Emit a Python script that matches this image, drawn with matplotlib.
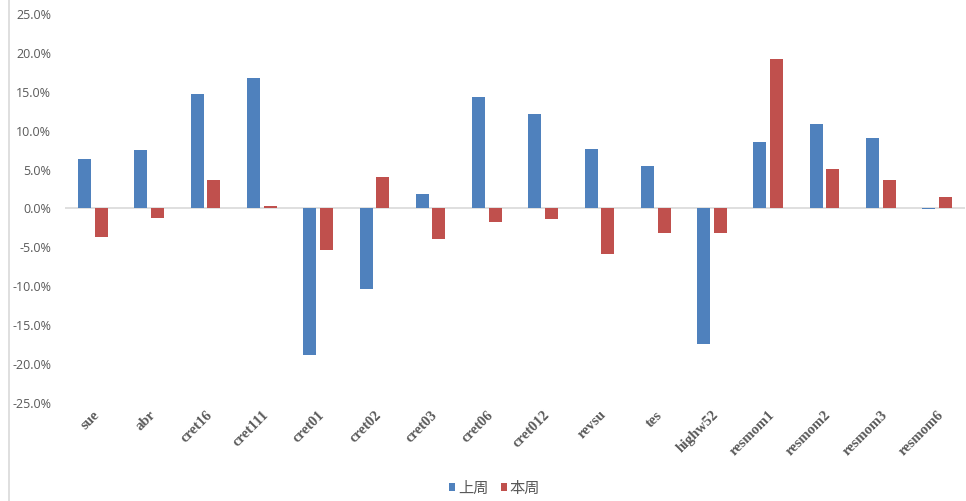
import matplotlib
matplotlib.use("Agg")
import matplotlib.pyplot as plt
import numpy as np
from matplotlib.lines import Line2D
from matplotlib.ticker import FuncFormatter

categories = ["sue", "abr", "cret16", "cret111", "cret01", "cret02", "cret03", "cret06",
              "cret012", "revsu", "tes", "highw52", "resmom1", "resmom2", "resmom3", "resmom6"]
last_week = [6.4, 7.5, 14.7, 16.8, -18.8, -10.4, 1.9, 14.3,
             12.1, 7.7, 5.4, -17.4, 8.5, 10.8, 9.0, -0.1]
this_week = [-3.7, -1.2, 3.6, 0.3, -5.4, 4.1, -3.9, -1.8,
             -1.4, -5.9, -3.1, -3.1, 19.2, 5.1, 3.7, 1.5]
series_names = ["上周", "本周"]
yticks = [-25, -20, -15, -10, -5, 0, 5, 10, 15, 20, 25]

plt.rcParams['font.family'] = ['Noto Sans CJK SC', 'DejaVu Sans']

fig = plt.figure(figsize=(9.66, 5.01), dpi=100)
ax = fig.add_axes([0.0672, 0.196, 0.932, 0.776])

x = np.arange(len(categories))
w = 0.231
off = 0.148
blue = "#4F81BD"
red = "#C0504D"
ax.bar(x - off, last_week, w, color=blue, label=series_names[0], zorder=3)
ax.bar(x + off, this_week, w, color=red, label=series_names[1], zorder=3)

ax.set_xlim(-0.5, len(categories) - 0.5)
ax.set_ylim(-25, 25)
ax.set_yticks(yticks)
ax.yaxis.set_major_formatter(FuncFormatter(lambda v, p: f"{v:.1f}%"))
ax.axhline(0, color="#D9D9D9", lw=1.2, zorder=2)
for s in ax.spines.values():
    s.set_visible(False)
ax.tick_params(axis='y', length=0, labelsize=9, labelcolor="#595959", pad=10)
ax.tick_params(axis='x', length=0, pad=4)
ax.set_xticks(x)
ax.set_xticklabels(categories, rotation=45, ha='right', rotation_mode='anchor',
                   family='Liberation Serif', fontweight='bold', fontsize=10.5, color="#595959")
for lab in ax.get_yticklabels():
    lab.set_family(['Open Sans', 'DejaVu Sans'])

fig.add_artist(Line2D([0.009, 0.009], [0, 1], transform=fig.transFigure, color="#D9D9D9", lw=1.2))

leg = fig.legend(loc='center', bbox_to_anchor=(0.512, 0.026), ncol=2, frameon=False,
                 handlelength=0.4, handleheight=0.4, handletextpad=0.2, columnspacing=0.8,
                 prop={'family': ['Noto Sans CJK SC', 'DejaVu Sans'], 'size': 11})
for t in leg.get_texts():
    t.set_color("#595959")

fig.savefig("out.png", dpi=100)
